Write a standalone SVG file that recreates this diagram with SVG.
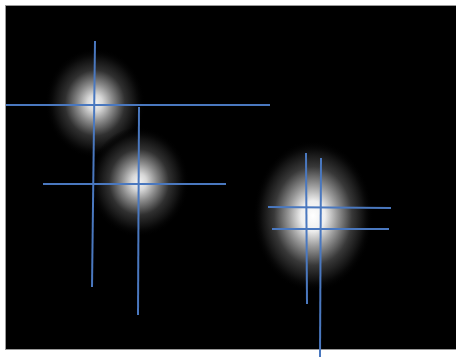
<svg xmlns="http://www.w3.org/2000/svg" width="456" height="358" viewBox="0 0 456 358">
<defs>
<radialGradient id="glow" cx="0.5" cy="0.5" r="0.5">
<stop offset="0" stop-color="#f4f4f4"/>
<stop offset="0.15" stop-color="#d8d8d8"/>
<stop offset="0.35" stop-color="#8a8a8a"/>
<stop offset="0.6" stop-color="#303030"/>
<stop offset="0.85" stop-color="#0a0a0a"/>
<stop offset="1" stop-color="#000000" stop-opacity="0"/>
</radialGradient>
<radialGradient id="glow2" cx="0.5" cy="0.5" r="0.5">
<stop offset="0" stop-color="#ffffff"/>
<stop offset="0.2" stop-color="#eeeeee"/>
<stop offset="0.4" stop-color="#9a9a9a"/>
<stop offset="0.65" stop-color="#383838"/>
<stop offset="0.88" stop-color="#0a0a0a"/>
<stop offset="1" stop-color="#000000" stop-opacity="0"/>
</radialGradient>
<style>
.ln{stroke:#4a78bf;stroke-width:2;fill:none}
</style>
</defs>
<rect x="0" y="0" width="456" height="358" fill="#ffffff"/>
<rect x="5.5" y="5.5" width="452" height="344" fill="#000000" stroke="#9a9a9a" stroke-width="1"/>
<g id="spot1"><ellipse cx="95" cy="103" rx="50" ry="55" fill="url(#glow)"/></g>
<g id="spot2"><ellipse cx="139" cy="182" rx="50" ry="55" fill="url(#glow)"/></g>
<g id="spot3"><ellipse cx="313" cy="216" rx="60" ry="76" fill="url(#glow2)"/></g>
<g id="connectors">
<line class="ln" x1="95" y1="41" x2="92" y2="287"/>
<line class="ln" x1="6" y1="105" x2="270" y2="105"/>
<line class="ln" x1="139" y1="107" x2="138" y2="315"/>
<line class="ln" x1="43" y1="184" x2="226" y2="184"/>
<line class="ln" x1="306" y1="153" x2="307" y2="304"/>
<line class="ln" x1="321" y1="158" x2="320" y2="357"/>
<line class="ln" x1="268" y1="207" x2="391" y2="208"/>
<line class="ln" x1="272" y1="229" x2="389" y2="229"/>
</g>
</svg>
